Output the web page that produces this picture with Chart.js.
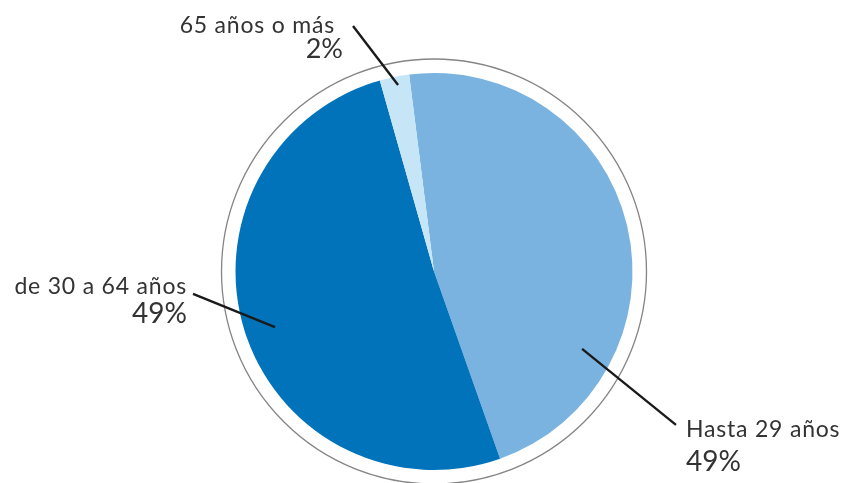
<!DOCTYPE html>
<html>
<head>
<meta charset="utf-8">
<script src="https://cdn.jsdelivr.net/npm/chart.js@4"></script>
<style>
  html, body { margin: 0; padding: 0; background: #ffffff; }
  #wrap { width: 843px; height: 483px; position: relative; }
</style>
</head>
<body>
<div id="wrap"><canvas id="c" width="843" height="483"></canvas></div>
<script>
// ---- data ----
const categories = ["Hasta 29 años", "de 30 a 64 años", "65 años o más"];
const shares = [46.6, 51.0, 2.4];           // slice sizes
const shareLabels = ["49%", "49%", "2%"];   // percentages printed on the chart
const colors = ["#7ab3e0", "#0073bb", "#c6e6f8"];

// ---- annotation layout (relative to pie centre, in units of radius) ----
const callouts = [
  { i: 0, inner: [0.746, 0.390], outer: [1.219, 0.773], name: { dx: 10, dy: 12, align: "left", size: 23 }, pct: { dx: 10, dy: 46, align: "left", size: 28 } },
  { i: 1, inner: [-0.801, 0.280], outer: [-1.214, 0.113], name: { dx: -6, dy: 0, align: "right", size: 23 }, pct: { dx: -6, dy: 29, align: "right", size: 28 } },
  { i: 2, inner: [-0.181, -0.940], outer: [-0.408, -1.237], name: { dx: -18, dy: 7, align: "right", size: 23 }, pct: { dx: -10, dy: 32, align: "right", size: 27 } }
];

const calloutPlugin = {
  id: "callouts",
  beforeDatasetsDraw(chart) {
    const arc = chart.getDatasetMeta(0).data[0];
    const ctx = chart.ctx;
    ctx.save();
    ctx.beginPath();
    ctx.arc(arc.x, arc.y, arc.outerRadius + 14, 0, Math.PI * 2);
    ctx.strokeStyle = "#858585";
    ctx.lineWidth = 1.3;
    ctx.stroke();
    ctx.restore();
  },
  afterDatasetsDraw(chart) {
    const arc = chart.getDatasetMeta(0).data[0];
    const cx = arc.x, cy = arc.y, R = arc.outerRadius;
    const ctx = chart.ctx;
    ctx.save();
    callouts.forEach(c => {
      const x1 = cx + c.inner[0] * R, y1 = cy + c.inner[1] * R;
      const x2 = cx + c.outer[0] * R, y2 = cy + c.outer[1] * R;
      ctx.beginPath();
      ctx.moveTo(x1, y1);
      ctx.lineTo(x2, y2);
      ctx.strokeStyle = "#1a1a1a";
      ctx.lineWidth = 2.4;
      ctx.stroke();
      ctx.fillStyle = "#333333";
      ctx.textBaseline = "alphabetic";
      ctx.letterSpacing = "0.8px";
      ctx.font = c.name.size + "px Lato, 'Open Sans', sans-serif";
      ctx.textAlign = c.name.align;
      ctx.fillText(categories[c.i], x2 + c.name.dx, y2 + c.name.dy);
      ctx.letterSpacing = "0px";
      ctx.font = c.pct.size + "px Lato, 'Open Sans', sans-serif";
      ctx.textAlign = c.pct.align;
      ctx.fillText(shareLabels[c.i], x2 + c.pct.dx, y2 + c.pct.dy);
    });
    ctx.restore();
  }
};

new Chart(document.getElementById("c"), {
  type: "pie",
  data: {
    labels: categories,
    datasets: [{
      data: shares,
      backgroundColor: colors,
      borderWidth: 0,
      hoverOffset: 0,
      offset: 0
    }]
  },
  options: {
    responsive: false,
    animation: false,
    rotation: -7.2,
    radius: 198.5,
    layout: { padding: { top: 72, bottom: 12, left: 236, right: 211 } },
    plugins: { legend: { display: false }, tooltip: { enabled: false } },
    events: []
  },
  plugins: [calloutPlugin]
});
</script>
</body>
</html>
